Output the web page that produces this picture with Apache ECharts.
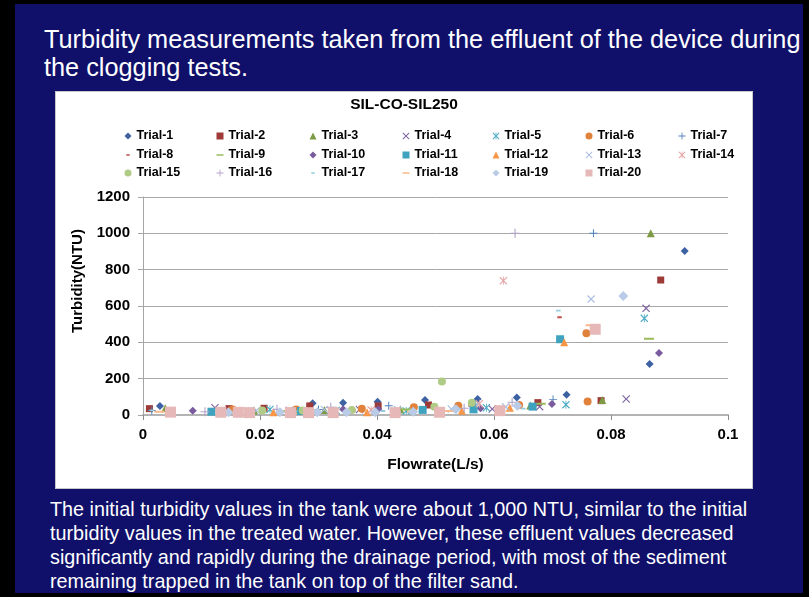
<!DOCTYPE html>
<html><head><meta charset="utf-8">
<script src="https://cdn.jsdelivr.net/npm/echarts@6/dist/echarts.min.js"></script>
<style>
html,body{margin:0;padding:0;background:#000;width:809px;height:597px;overflow:hidden;font-family:"Liberation Sans",Arial,sans-serif;}
#slide{position:absolute;left:15px;top:4px;width:788px;height:589px;background:#10106a;}
#title{position:absolute;left:44px;top:25px;color:#fff;font-size:25.3px;line-height:28px;white-space:nowrap;}
#note{position:absolute;left:50px;top:497px;color:#fff;font-size:19.8px;line-height:24px;white-space:nowrap;}
#chart{position:absolute;left:55px;top:91px;width:698px;height:398px;background:#fff;box-sizing:border-box;border:1px solid #c8c8c8;}
</style></head>
<body>
<div id="slide"></div>
<div id="title">Turbidity measurements taken from the effluent of the device during<br>the clogging tests.</div>
<div id="chart"></div>
<div id="note">The initial turbidity values in the tank were about 1,000 NTU, similar to the initial<br>turbidity values in the treated water. However, these effluent values decreased<br>significantly and rapidly during the drainage period, with most of the sediment<br>remaining trapped in the tank on top of the filter sand.</div>
<script>
const chartTitle = 'SIL-CO-SIL250';
const xAxisName = 'Flowrate(L/s)';
const yAxisName = 'Turbidity(NTU)';
const xTicks = [0, 0.02, 0.04, 0.06, 0.08, 0.1];
const yTicks = [0, 200, 400, 600, 800, 1000, 1200];
const trialNames = ['Trial-1','Trial-2','Trial-3','Trial-4','Trial-5','Trial-6','Trial-7','Trial-8','Trial-9','Trial-10','Trial-11','Trial-12','Trial-13','Trial-14','Trial-15','Trial-16','Trial-17','Trial-18','Trial-19','Trial-20'];

const trial1 = [[0.0029,50],[0.015,25],[0.029,64],[0.0342,68],[0.0401,73],[0.0482,83],[0.0572,88],[0.0639,97],[0.0724,112],[0.0866,281],[0.0926,903]];
const trial2 = [[0.0011,35],[0.0147,35],[0.0207,37],[0.0285,50],[0.0402,50],[0.0488,55],[0.0675,68],[0.0783,79],[0.0885,743]];
const trial3 = [[0.0038,37],[0.019,25],[0.031,28],[0.044,30],[0.0662,52],[0.0785,82],[0.0868,1000]];
const trial4 = [[0.0123,40],[0.025,25],[0.037,30],[0.0597,33],[0.0678,46],[0.0826,88],[0.086,587]];
const trial5 = [[0.0217,30],[0.033,25],[0.045,22],[0.0587,40],[0.0723,57],[0.0857,532]];
const trial6 = [[0.0153,30],[0.0262,30],[0.0374,35],[0.0463,42],[0.0539,51],[0.0643,55],[0.076,75],[0.0758,450]];
const trial7 = [[0.0015,25],[0.03,30],[0.042,51],[0.0568,60],[0.0701,86],[0.077,1000]];
const trial8 = [[0.016,22],[0.036,25],[0.056,50],[0.0712,538]];
const trial9 = [[0.024,20],[0.045,30],[0.068,62],[0.0865,420]];
const trial10 = [[0.0085,24],[0.0342,31],[0.0402,31],[0.0577,37],[0.0699,60],[0.0882,341]];
const trial11 = [[0.0117,18],[0.027,22],[0.0478,28],[0.0565,31],[0.0666,46],[0.0713,417]];
const trial12 = [[0.0164,20],[0.0223,15],[0.0383,15],[0.0545,24],[0.0627,40],[0.072,400]];
const trial13 = [[0.0194,25],[0.031,30],[0.0435,30],[0.0527,33],[0.062,45],[0.0766,638]];
const trial14 = [[0.018,20],[0.039,28],[0.0575,62],[0.0616,739]];
const trial15 = [[0.0204,25],[0.0273,25],[0.0357,28],[0.0498,45],[0.0511,185],[0.0562,68]];
const trial16 = [[0.0106,18],[0.0229,31],[0.0321,42],[0.0549,37],[0.0631,70],[0.0636,1000]];
const trial17 = [[0.0015,25],[0.026,20],[0.041,22],[0.065,35],[0.071,574]];
const trial18 = [[0.0028,18],[0.046,18],[0.0525,22],[0.0765,494]];
const trial19 = [[0.0146,15],[0.0234,15],[0.0298,15],[0.0348,15],[0.0397,15],[0.0462,18],[0.0535,31],[0.064,51],[0.0821,655]];
const trial20 = [[0.0047,16],[0.0133,15],[0.0163,15],[0.0182,13],[0.0252,13],[0.0283,13],[0.0325,13],[0.0431,13],[0.0507,15],[0.061,24],[0.0773,472]];

const trials = [trial1,trial2,trial3,trial4,trial5,trial6,trial7,trial8,trial9,trial10,trial11,trial12,trial13,trial14,trial15,trial16,trial17,trial18,trial19,trial20];

// styles
const X = 'path://M0,1 L1,0 L5,4 L9,0 L10,1 L6,5 L10,9 L9,10 L5,6 L1,10 L0,9 L4,5 Z';
const PLUS = 'path://M4.4,0 H5.6 V4.4 H10 V5.6 H5.6 V10 H4.4 V5.6 H0 V4.4 H4.4 Z';
const STAR = 'path://M0,1 L1,0 L5,4 L9,0 L10,1 L6,5 L10,9 L9,10 L5,6 L1,10 L0,9 L4,5 Z M4.5,0 H5.5 V10 H4.5 Z';
const SDASH = 'path://M0,0 L0.01,0 L0,0.01 Z M2.5,4 H7.5 V6 H2.5 Z M10,10 L9.99,10 L10,9.99 Z';
const LDASH = 'path://M0,0 L0.01,0 L0,0.01 Z M0,4 H10 V6 H0 Z M10,10 L9.99,10 L10,9.99 Z';
const symbols = ['diamond','rect','triangle',X,STAR,'circle',PLUS,SDASH,LDASH,'diamond','rect','triangle',X,STAR,'circle',PLUS,SDASH,LDASH,'diamond','rect'];
const sizes = [8,7,8,8,8,8,8,9,10,8,8,8,8,8,8,9,9,10,10,11];
const colors = ['#3c62a3','#9e3a37','#7d9b45','#7f63a1','#4aabc5','#e0823c','#4f81bd','#c0504d','#9bbb59','#7a5c9e','#3fa3bf','#f79646','#a8bde0','#e3a3a2','#b0cb85','#b3a2c7','#93cddd','#fab98a','#b9cbe6','#e6b9b8'];

const legendLefts = [68.5, 160.5, 253.5, 346.5, 436.5, 529.5, 622.5];
const legendTops = [37.5, 56.5, 74.5];

const chart = echarts.init(document.getElementById('chart'), null, {renderer:'canvas'});
const legends = trialNames.map((n, i) => ({
  top: legendTops[Math.floor(i / 7)], left: legendLefts[i % 7], orient: 'horizontal', padding: 0,
  itemWidth: 7, itemHeight: 7,
  data: [{name: n, icon: symbols[i]}],
  textStyle: {fontSize: 12.5, fontWeight: 'bold', color: '#000', fontFamily: 'Liberation Sans'},
  selectedMode: false
}));

chart.setOption({
  animation: false,
  title: {text: chartTitle, left: 'center', top: 0, textStyle: {fontSize: 15.5, fontWeight: 'bold', color: '#000', fontFamily: 'Liberation Sans'}},
  legend: legends,
  grid: {left: 87, top: 105, width: 585, height: 218, containLabel: false},
  xAxis: {
    type: 'value', min: 0, max: 0.1, interval: 0.02,
    name: xAxisName, nameLocation: 'middle', nameGap: 42,
    nameTextStyle: {fontSize: 15.5, fontWeight: 'bold', color: '#000', fontFamily: 'Liberation Sans'},
    axisLine: {show: true, lineStyle: {color: '#b4b4b4', width: 2}},
    axisTick: {show: true, length: 5, lineStyle: {color: '#8c8c8c'}},
    axisLabel: {margin: 12, fontSize: 15, fontWeight: 'bold', color: '#000', fontFamily: 'Liberation Sans',
      formatter: v => String(+v.toFixed(2))},
    splitLine: {show: false}
  },
  yAxis: {
    type: 'value', min: 0, max: 1200, interval: 200,
    name: yAxisName, nameLocation: 'middle', nameGap: 49, nameRotate: 90,
    nameTextStyle: {fontSize: 15, fontWeight: 'bold', color: '#000', fontFamily: 'Liberation Sans', padding: [0,0,0,50]},
    axisLine: {show: true, lineStyle: {color: '#a6a6a6', width: 1}},
    axisTick: {show: true, length: 5, lineStyle: {color: '#a6a6a6'}},
    axisLabel: {margin: 13, fontSize: 15, fontWeight: 'bold', color: '#000', fontFamily: 'Liberation Sans',
      formatter: v => String(v)},
    splitLine: {show: true, lineStyle: {color: '#a8a8a8', width: 1}}
  },
  series: trials.map((d, i) => ({
    name: trialNames[i], type: 'scatter', data: d,
    symbol: symbols[i], symbolSize: sizes[i],
    itemStyle: {color: colors[i], opacity: 1},
    z: 2
  }))
});
</script>
</body></html>
